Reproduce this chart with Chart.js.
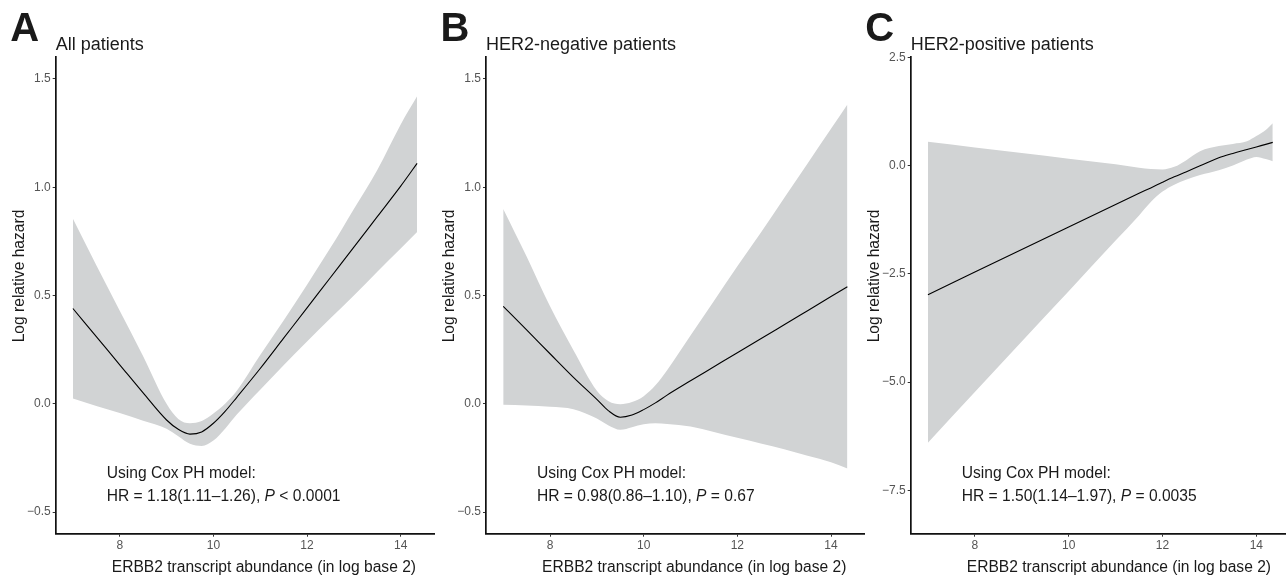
<!DOCTYPE html>
<html><head><meta charset="utf-8">
<script src="https://cdn.jsdelivr.net/npm/chart.js@4.4.1/dist/chart.umd.min.js"></script>
<style>
html,body{margin:0;padding:0;background:#fff;overflow:hidden;width:1286px;height:576px;position:relative;}
canvas.panel{position:absolute;top:0;}
</style></head><body>
<canvas id="cA" class="panel" style="left:0px" width="436" height="576"></canvas>
<canvas id="cB" class="panel" style="left:430px" width="436" height="576"></canvas>
<canvas id="cC" class="panel" style="left:856px" width="436" height="576"></canvas>
<script>
// ---------- data ----------
const xTicks = [8, 10, 12, 14];
const yTicksAB = [-0.5, 0, 0.5, 1.0, 1.5];
const yTicksC = [-7.5, -5.0, -2.5, 0, 2.5];

const xA = [7, 7.5, 8, 8.5, 9, 9.25, 9.5, 9.75, 10, 10.25, 10.5, 11, 11.5, 12, 12.5, 13, 13.5, 14, 14.35];
const fitA = [0.44, 0.31, 0.18, 0.05, -0.075, -0.118, -0.14, -0.13, -0.09, -0.035, 0.03, 0.163, 0.303, 0.443, 0.583, 0.723, 0.864, 1.005, 1.11];
const upperA = [0.855, 0.64, 0.43, 0.22, 0.0, -0.07, -0.09, -0.08, -0.045, 0.0, 0.06, 0.225, 0.385, 0.55, 0.72, 0.9, 1.08, 1.29, 1.42];
const lowerA = [0.024, -0.01, -0.043, -0.078, -0.115, -0.15, -0.185, -0.195, -0.17, -0.115, -0.05, 0.065, 0.178, 0.288, 0.395, 0.5, 0.61, 0.717, 0.793];

const xB = [7, 7.5, 8, 8.5, 9, 9.25, 9.5, 9.75, 10, 10.25, 10.5, 11, 11.5, 12, 12.5, 13, 13.5, 14, 14.35];
const fitB = [0.45, 0.341, 0.231, 0.122, 0.02, -0.033, -0.062, -0.052, -0.027, 0.004, 0.04, 0.106, 0.171, 0.236, 0.3, 0.365, 0.43, 0.495, 0.54];
const upperB = [0.90, 0.68, 0.45, 0.247, 0.06, 0.012, -0.002, 0.008, 0.035, 0.085, 0.155, 0.315, 0.475, 0.635, 0.79, 0.95, 1.11, 1.27, 1.382];
const lowerB = [-0.005, -0.008, -0.014, -0.025, -0.068, -0.1, -0.12, -0.108, -0.095, -0.09, -0.093, -0.105, -0.13, -0.157, -0.183, -0.21, -0.24, -0.27, -0.299];

const xC = [7, 8, 9, 10, 11, 11.5, 11.75, 12, 12.25, 12.5, 12.8, 13.2, 13.5, 13.8, 14, 14.2, 14.35];
const fitC = [-2.98, -2.46, -1.94, -1.42, -0.90, -0.64, -0.515, -0.385, -0.26, -0.146, -0.005, 0.18, 0.28, 0.37, 0.43, 0.49, 0.535];
const upperC = [0.55, 0.42, 0.29, 0.16, 0.03, -0.05, -0.08, -0.09, -0.03, 0.12, 0.33, 0.45, 0.5, 0.56, 0.68, 0.82, 0.98];
const lowerC = [-6.4, -5.23, -4.06, -2.9, -1.73, -1.15, -0.84, -0.6, -0.44, -0.33, -0.22, -0.11, 0.0, 0.14, 0.2, 0.15, 0.1];

const letters = ['A', 'B', 'C'];
const titles = ['All patients', 'HER2-negative patients', 'HER2-positive patients'];
const xTitle = 'ERBB2 transcript abundance (in log base 2)';
const yTitle = 'Log relative hazard';
const noteLine1 = 'Using Cox PH model:';
const noteHR = ['HR = 1.18(1.11\u20131.26), ', 'HR = 0.98(0.86\u20131.10), ', 'HR = 1.50(1.14\u20131.97), '];
const noteP = [' < 0.0001', ' = 0.67', ' = 0.0035'];

// ---------- drawing ----------
const FONT = '"Liberation Sans", Arial, Helvetica, sans-serif';
const BAND = '#d1d3d4';
const INK = '#1a1a1a';
const TICKTXT = '#555';

function pts(xs, ys) { return xs.map((x, i) => ({x: x, y: ys[i]})); }
function fmt(v) { return v.toFixed(1).replace('-', '\u2212'); }

const textPlugin = {
  id: 'panelText',
  afterDraw(chart, args, o) {
    const ctx = chart.ctx, ca = chart.chartArea;
    ctx.save();
    ctx.fillStyle = INK;
    ctx.textAlign = 'left';
    ctx.textBaseline = 'alphabetic';
    ctx.font = 'bold 40px ' + FONT;
    ctx.fillText(o.letter, ca.left - 45.5, 40.7);
    ctx.font = '18px ' + FONT;
    ctx.fillText(o.title, ca.left, 49.5);
    // axis titles
    ctx.font = '15.6px ' + FONT;
    ctx.textAlign = 'center';
    ctx.fillText(xTitle, ca.left + 208.2, 572);
    ctx.save();
    ctx.translate(ca.left - 32, 276);
    ctx.rotate(-Math.PI / 2);
    ctx.fillText(yTitle, 0, 0);
    ctx.restore();
    // annotation
    ctx.textAlign = 'left';
    const x0 = ca.left + 51;
    ctx.fillText(noteLine1, x0, 478.3);
    let x = x0;
    ctx.fillText(o.hr, x, 500.7);
    x += ctx.measureText(o.hr).width;
    ctx.font = 'italic 15.6px ' + FONT;
    ctx.fillText('P', x, 500.7);
    x += ctx.measureText('P').width;
    ctx.font = '15.6px ' + FONT;
    ctx.fillText(o.p, x, 500.7);
    ctx.restore();
  }
};

function makePanel(id, idx, xs, fit, up, lo, yMin, yMax, yTicks, yW, padR) {
  new Chart(document.getElementById(id), {
    type: 'line',
    data: {
      datasets: [
        {data: pts(xs, up), order: 2, borderWidth: 0, backgroundColor: BAND, fill: '+1', pointRadius: 0, cubicInterpolationMode: 'monotone'},
        {data: pts(xs, lo), order: 2, borderWidth: 0, backgroundColor: BAND, fill: false, pointRadius: 0, cubicInterpolationMode: 'monotone'},
        {data: pts(xs, fit), order: 0, borderColor: '#000', borderWidth: 1.1, fill: false, pointRadius: 0, cubicInterpolationMode: 'monotone'}
      ]
    },
    options: {
      responsive: false,
      animation: false,
      devicePixelRatio: 1,
      layout: {padding: {top: 57.3, right: padR, left: 0, bottom: 0}},
      plugins: {
        legend: {display: false},
        tooltip: {enabled: false},
        panelText: {letter: letters[idx], title: titles[idx], hr: noteHR[idx], p: noteP[idx]}
      },
      scales: {
        x: {
          type: 'linear', min: 6.6325, max: 14.7175,
          afterBuildTicks: s => { s.ticks = xTicks.map(v => ({value: v})); },
          afterFit: s => { s.height = 42.3; },
          ticks: {color: TICKTXT, font: {family: FONT, size: 12}, padding: 2, callback: v => String(v)},
          grid: {display: true, drawOnChartArea: false, drawTicks: true, tickLength: 3, tickColor: '#333', tickWidth: 1},
          border: {display: true, color: '#111', width: 1.7}
        },
        y: {
          type: 'linear', min: yMin, max: yMax,
          afterBuildTicks: s => { s.ticks = yTicks.map(v => ({value: v})); },
          afterFit: s => { s.width = yW; },
          ticks: {color: TICKTXT, font: {family: FONT, size: 12}, padding: 2, callback: v => fmt(v)},
          grid: {display: true, drawOnChartArea: false, drawTicks: true, tickLength: 3, tickColor: '#333', tickWidth: 1},
          border: {display: true, color: '#111', width: 1.7}
        }
      }
    },
    plugins: [textPlugin]
  });
}

makePanel('cA', 0, xA, fitA, upperA, lowerA, -0.6, 1.6, yTicksAB, 55.7, 1.7);
makePanel('cB', 1, xB, fitB, upperB, lowerB, -0.6, 1.6, yTicksAB, 56, 1.4);
makePanel('cC', 2, xC, fitC, upperC, lowerC, -8.5, 2.5, yTicksC, 54.7, 2);
</script>
</body></html>
